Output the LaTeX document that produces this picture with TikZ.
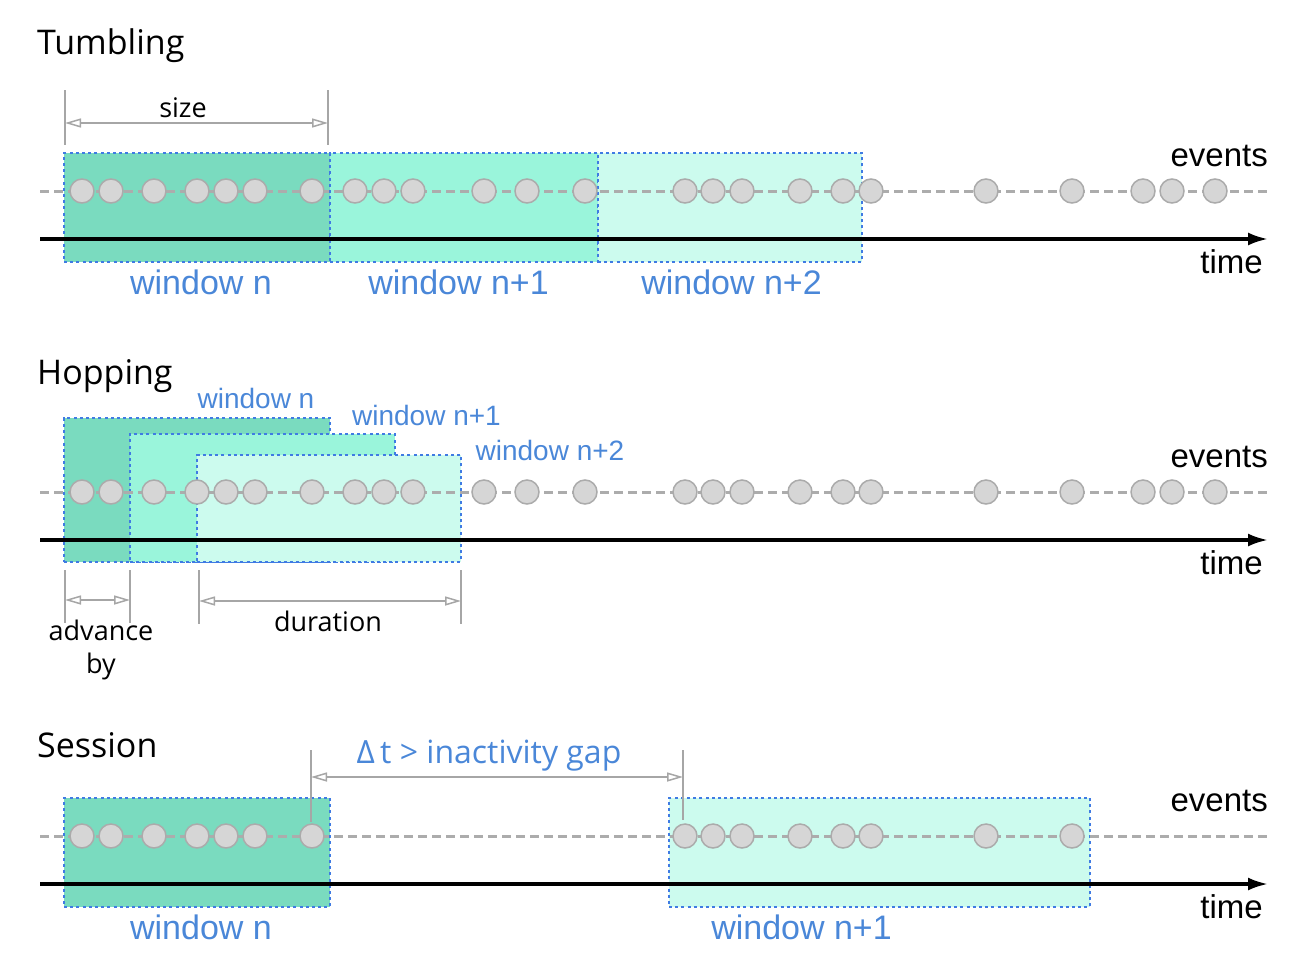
\documentclass[tikz,border=0pt]{standalone}
\usepackage{fontspec}
\setmainfont{Liberation Sans}
\newfontfamily\hfont{Open Sans}
\usetikzlibrary{arrows.meta}
\definecolor{winA}{HTML}{7ADBBF}
\definecolor{winB}{HTML}{9AF5DB}
\definecolor{winC}{HTML}{CCFBEE}
\definecolor{winedge}{HTML}{3F7BE3}
\definecolor{lblblue}{HTML}{4A87D8}
\definecolor{evfill}{HTML}{D6D6D6}
\definecolor{evedge}{HTML}{ABABAB}

\begin{document}
\begin{tikzpicture}[x=1pt, y=-1pt,
  winbox/.style={draw=winedge, line width=2.6pt, dash pattern=on 3pt off 3.2pt, inner sep=0pt},
  evt/.style={circle, draw=evedge, fill=evfill, line width=1.5pt, minimum size=24pt, inner sep=0pt},
  evline/.style={draw=gray!65, line width=3pt, dash pattern=on 9pt off 5pt},
  timeline/.style={line width=3.2pt, -{Latex[length=20pt,width=13pt]}},
  extline/.style={draw=gray!70, line width=1.5pt},
  dimline/.style={extline, {Triangle[open,length=16pt,width=9pt]}-{Triangle[open,length=16pt,width=9pt]}},
  head/.style={font=\hfont\fontsize{34}{40}\selectfont, anchor=base west, inner sep=0pt},
  wlbl/.style={font=\fontsize{34}{40}\selectfont, text=lblblue, anchor=base, inner sep=0pt},
  hlbl/.style={font=\fontsize{28}{34}\selectfont, text=lblblue, anchor=base, inner sep=0pt},
  side/.style={font=\fontsize{33}{40}\selectfont, anchor=base east, inner sep=0pt},
  dlbl/.style={font=\hfont\fontsize{27}{32}\selectfont, anchor=base, inner sep=0pt}]
  \useasboundingbox (0,0) rectangle (1292,964);
  \node[head] (tumb) at (37,54)  {Tumbling};
  \node[head] (hopp) at (37,384) {Hopping};
  \node[head] (sess) at (37,757) {Session};
  \node[winbox, fill=winA, minimum width=266, minimum height=109] (tw1) at (197,207.5) {};
  \node[winbox, fill=winB, minimum width=268, minimum height=109] (tw2) at (464,207.5) {};
  \node[winbox, fill=winC, minimum width=264, minimum height=109] (tw3) at (730,207.5) {};
  \node[winbox, fill=winA, minimum width=266, minimum height=144] (hw1) at (197,490) {};
  \node[winbox, fill=winB, minimum width=265, minimum height=128] (hw2) at (262.5,498) {};
  \node[winbox, fill=winC, minimum width=264, minimum height=107] (hw3) at (329,508.5) {};
  \node[winbox, fill=winA, minimum width=266, minimum height=109] (sw1) at (197,852.5) {};
  \node[winbox, fill=winC, minimum width=421, minimum height=109] (sw2) at (879.5,852.5) {};
  \foreach \r/\y in {t/191, h/492, s/836} {
    \coordinate (\r a) at (40,\y);
    \coordinate (\r b) at (1268,\y);
    \coordinate (\r c) at (40,\y+48);
    \coordinate (\r d) at (1268,\y+48);
    \draw[evline] (\r a) -- (\r b);
    \draw[timeline] (\r c) -- (\r d);
    \node[side] (\r ev) at (1268,\y-25) {events};
    \node[side] (\r tm) at (1263,\y+82) {time};
  }
  \foreach \x [count=\i] in {82,111,154,197,226,255,312,355,384,413,484,527,585,
                             685,713,742,800,843,871,986,1072,1143,1172,1215} {
    \node[evt] (t\i) at (\x,191) {};
    \node[evt] (h\i) at (\x,492) {};
  }
  \foreach \x [count=\i] in {82,111,154,197,226,255,312,685,713,742,800,843,871,986,1072}
    \node[evt] (s\i) at (\x,836) {};
  \node[wlbl] (tl1) at (201,294)   {window n};
  \node[wlbl] (tl2) at (458.5,294) {window n+1};
  \node[wlbl] (tl3) at (731.5,294) {window n+2};
  \node[hlbl] (hl1) at (256,408)   {window n};
  \node[hlbl] (hl2) at (426.5,425) {window n+1};
  \node[hlbl] (hl3) at (550,460)   {window n+2};
  \node[wlbl] (sl1) at (201,939)   {window n};
  \node[wlbl] (sl2) at (801.5,939) {window n+1};
  \coordinate (szA) at (65,123);
  \coordinate (szB) at (328,123);
  \draw[extline] (szA) ++(0,-33) -- ++(0,55);
  \draw[extline] (szB) ++(0,-33) -- ++(0,55);
  \draw[dimline] (szA) -- (szB);
  \node[dlbl] (sz) at (183,117) {size};
  \coordinate (adA) at (65,600);
  \coordinate (adB) at (130,600);
  \draw[extline] (adA) ++(0,-30) -- ++(0,53);
  \draw[extline] (adB) ++(0,-30) -- ++(0,53);
  \draw[dimline] (adA) -- (adB);
  \node[dlbl] (ad1) at (101,640) {advance};
  \node[dlbl] (ad2) at (101,673) {by};
  \coordinate (duA) at (199,601);
  \coordinate (duB) at (461,601);
  \draw[extline] (duA) ++(0,-31) -- ++(0,54);
  \draw[extline] (duB) ++(0,-31) -- ++(0,54);
  \draw[dimline] (duA) -- (duB);
  \node[dlbl] (du) at (328,631) {duration};
  \coordinate (gpA) at (311,777);
  \coordinate (gpB) at (683,777);
  \draw[extline] (gpA) ++(0,-27) -- ++(0,72);
  \draw[extline] (gpB) ++(0,-27) -- ++(0,70);
  \draw[dimline] (gpA) -- (gpB);
  \node[dlbl, font=\hfont\fontsize{32}{38}\selectfont, text=lblblue] (gp) at (489,763) {Δ\,t > inactivity gap};
\end{tikzpicture}
\end{document}
